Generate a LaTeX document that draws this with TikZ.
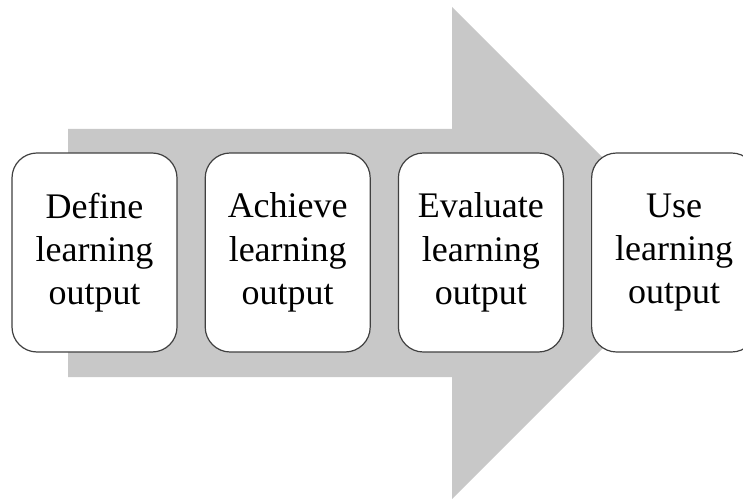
\documentclass[tikz,border=0pt]{standalone}
\usepackage{fontspec}
\setmainfont{Liberation Serif}
\usetikzlibrary{positioning}
\definecolor{arrowgray}{RGB}{200,200,200}
\definecolor{edgegray}{RGB}{64,64,64}
\begin{document}
\begin{tikzpicture}[x=0.25mm,y=-0.25mm,stagebox/.style={draw=edgegray,line width=0.3mm,fill=white,rounded corners=6.25mm,minimum width=41.25mm,minimum height=49.75mm,align=center,font=\fontsize{25.6}{30.8}\selectfont}]
\useasboundingbox(0,0)rectangle(743,499);
\clip(0,0)rectangle(743,499);
\fill[arrowgray](68,129)--(452,129)--(452,7)--(698,253)--(452,499)--(452,377)--(68,377)--cycle;
\node[stagebox](define)at(94.5,252.5){Define\\learning\\output};
\node[stagebox,right=6.75mm of define](achieve){Achieve\\learning\\output};
\node[stagebox,right=6.75mm of achieve](evaluate){Evaluate\\learning\\output};
\node[stagebox,right=6.75mm of evaluate](use){Use\\learning\\output};
\end{tikzpicture}
\end{document}
